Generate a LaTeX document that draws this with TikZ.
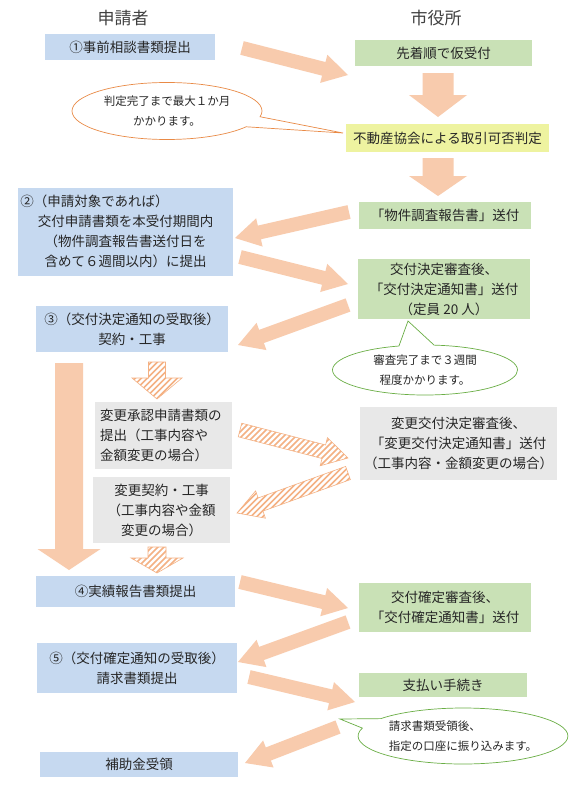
\documentclass[tikz,border=0pt]{standalone}
\usepackage{fontspec}
\setmainfont{Noto Sans CJK JP}
\usetikzlibrary{calc,shapes.callouts}
\definecolor{bluebox}{HTML}{C6D9F0}
\definecolor{greenbox}{HTML}{C9E1B6}
\definecolor{yellowbox}{HTML}{EEF3A0}
\definecolor{graybox}{HTML}{E8E8E8}
\definecolor{peach}{HTML}{F8CBAD}
\definecolor{peachline}{HTML}{F4B183}
\definecolor{callorange}{HTML}{E98A46}
\definecolor{callgreen}{HTML}{6AAE45}
\definecolor{txt}{HTML}{262626}
\definecolor{headtxt}{HTML}{404040}
% solid fat arrow: style, tail, tip, shaft half width, head half width, head length
\newcommand\fatarrow[6]{%
  \coordinate (fa-c) at ($(#3)!#6pt!(#2)$);
  \path[#1] ($(#2)!#4pt!90:(#3)$) -- ($(fa-c)!#4pt!90:(#3)$) -- ($(fa-c)!#5pt!90:(#3)$)
    -- (#3) -- ($(fa-c)!#5pt!-90:(#3)$) -- ($(fa-c)!#4pt!-90:(#3)$) -- ($(#2)!#4pt!-90:(#3)$) -- cycle;}
% hatched fat arrow: tail, tip, shaft half width, head half width, head length
\newcommand\hatcharrow[5]{%
  \coordinate (fa-c) at ($(#2)!#5pt!(#1)$);
  \coordinate (fa-m) at ($(#1)!0.5!(#2)$);
  \begin{scope}
  \clip ($(#1)!#3pt!90:(#2)$) -- ($(fa-c)!#3pt!90:(#2)$) -- ($(fa-c)!#4pt!90:(#2)$)
    -- (#2) -- ($(fa-c)!#4pt!-90:(#2)$) -- ($(fa-c)!#3pt!-90:(#2)$) -- ($(#1)!#3pt!-90:(#2)$) -- cycle;
  \fill[white] ($(fa-m)+(-90,-90)$) rectangle ($(fa-m)+(90,90)$);
  \foreach \k in {-180,-174,...,180}
    \draw[hatchline] ($(fa-m)+(\k-90,90)$) -- ($(fa-m)+(\k+90,-90)$);
  \end{scope}
  \draw[hatchedge] ($(#1)!#3pt!90:(#2)$) -- ($(fa-c)!#3pt!90:(#2)$) -- ($(fa-c)!#4pt!90:(#2)$)
    -- (#2) -- ($(fa-c)!#4pt!-90:(#2)$) -- ($(fa-c)!#3pt!-90:(#2)$) -- ($(#1)!#3pt!-90:(#2)$) -- cycle;}
\begin{document}
\begin{tikzpicture}[x=1pt,y=-1pt,
  every node/.style={text=txt},
  boxbase/.style={rectangle, inner sep=0pt, align=center, font=\fontsize{13.5}{20}\selectfont},
  bluebx/.style={boxbase, fill=bluebox},
  greenbx/.style={boxbase, fill=greenbox},
  yellowbx/.style={boxbase, fill=yellowbox},
  graybx/.style={boxbase, fill=graybox},
  header/.style={font=\fontsize{17}{20}\selectfont, text=headtxt},
  solidarrow/.style={fill=peach},
  hatchline/.style={draw=peachline, line width=1.7pt},
  hatchedge/.style={draw=peachline, line width=0.6pt},
  callbase/.style={ellipse callout, fill=white, line width=0.7pt, inner sep=0pt, callout pointer arc=22, font=\fontsize{11.5}{20}\selectfont}
]
\useasboundingbox (0,0) rectangle (587,800);
\fill[white] (0,0) rectangle (587,800);

% headers
\node[header] (h1) at (123,18) {申請者};
\node[header] (h2) at (436,18) {市役所};

% arrow end coordinates
\coordinate (a1t) at (242,48);  \coordinate (a1h) at (348,75);
\coordinate (d1t) at (438,73);  \coordinate (d1h) at (438,117);
\coordinate (d2t) at (438,158); \coordinate (d2h) at (438,196);
\coordinate (a2t) at (349,212); \coordinate (a2h) at (235,238);
\coordinate (a3t) at (240,257); \coordinate (a3h) at (348,284);
\coordinate (a4t) at (348,305); \coordinate (a4h) at (238,345);
\coordinate (bdt) at (69,363);  \coordinate (bdh) at (69,570);
\coordinate (hd1t) at (157,362); \coordinate (hd1h) at (157,399);
\coordinate (ha1t) at (240,430); \coordinate (ha1h) at (348,458);
\coordinate (ha2t) at (348,473); \coordinate (ha2h) at (237,513);
\coordinate (hd2t) at (157,547); \coordinate (hd2h) at (157,573);
\coordinate (a5t) at (240,582); \coordinate (a5h) at (348,608);
\coordinate (a6t) at (348,622); \coordinate (a6h) at (238,662);
\coordinate (a7t) at (249,677); \coordinate (a7h) at (355,702);
\coordinate (a8t) at (338,727); \coordinate (a8h) at (245,763);

% solid arrows
\fatarrow{solidarrow}{a1t}{a1h}{7}{14.5}{25}
\fatarrow{solidarrow}{d1t}{d1h}{15.5}{29}{22}
\fatarrow{solidarrow}{d2t}{d2h}{15.5}{29}{20}
\fatarrow{solidarrow}{a2t}{a2h}{7}{14.5}{25}
\fatarrow{solidarrow}{a3t}{a3h}{7}{14.5}{25}
\fatarrow{solidarrow}{a4t}{a4h}{7}{14.5}{25}
\fatarrow{solidarrow}{bdt}{bdh}{14}{31.5}{21}
\fatarrow{solidarrow}{a5t}{a5h}{7}{14.5}{25}
\fatarrow{solidarrow}{a6t}{a6h}{7}{14.5}{25}
\fatarrow{solidarrow}{a7t}{a7h}{7}{14.5}{25}
\fatarrow{solidarrow}{a8t}{a8h}{7}{14.5}{25}
% hatched arrows
\hatcharrow{hd1t}{hd1h}{8.5}{25}{21}
\hatcharrow{ha1t}{ha1h}{7}{14.5}{25}
\hatcharrow{ha2t}{ha2h}{7}{14.5}{25}
\hatcharrow{hd2t}{hd2h}{9}{26}{15}

% left column
\node[bluebx, minimum width=170, minimum height=26] (b1) at (130,47) {①事前相談書類提出};
\node[bluebx, minimum width=215, minimum height=88] (b2) at (125.5,231.5) {②（申請対象であれば）\hspace*{62pt}\\交付申請書類を本受付期間内\\（物件調査報告書送付日を\\含めて６週間以内）に提出};
\node[bluebx, minimum width=192, minimum height=46] (b3) at (132,329) {③（交付決定通知の受取後）\\契約・工事};
\node[graybx, minimum width=137, minimum height=67, text width=126, align=left] (gl1) at (163,435.5) {変更承認申請書類の\\提出（工事内容や\\金額変更の場合）};
\node[graybx, minimum width=137, minimum height=66] (gl2) at (161.5,510) {変更契約・工事\\（工事内容や金額\\変更の場合）};
\node[bluebx, minimum width=199, minimum height=31] (b4) at (135.5,591.5) {④実績報告書類提出};
\node[bluebx, minimum width=200, minimum height=50] (b5) at (137,668) {⑤（交付確定通知の受取後）\\請求書類提出};
\node[bluebx, minimum width=198, minimum height=25] (b6) at (139,764.5) {補助金受領};

% right column
\node[greenbx, minimum width=177, minimum height=26] (g1) at (443.5,53) {先着順で仮受付};
\node[yellowbx, minimum width=203, minimum height=28] (y1) at (447.5,138) {不動産協会による取引可否判定};
\node[greenbx, minimum width=172, minimum height=27] (g2) at (445,215.5) {「物件調査報告書」送付};
\node[greenbx, minimum width=172, minimum height=60] (g3) at (444,289) {交付決定審査後、\\「交付決定通知書」送付\\（定員 20 人）};
\node[graybx, minimum width=197, minimum height=73] (g4) at (458.5,443.5) {変更交付決定審査後、\\「変更交付決定通知書」送付\\（工事内容・金額変更の場合）};
\node[greenbx, minimum width=172, minimum height=49] (g5) at (445,607.5) {交付確定審査後、\\「交付確定通知書」送付};
\node[greenbx, minimum width=168, minimum height=24] (g6) at (443,685) {支払い手続き};

% callouts
\coordinate (c1tip) at (343,133);
\coordinate (c2tip) at (408,321);
\coordinate (c3tip) at (340,719);
\node[callbase, draw=callorange, minimum width=190, minimum height=57, align=center, callout absolute pointer={(c1tip)}] (c1) at (167,111) {判定完了まで最大１か月\\かかります。};
\node[callbase, draw=callgreen, minimum width=185, minimum height=50, align=center, callout absolute pointer={(c2tip)}] (c2) at (425,370) {審査完了まで３週間\\程度かかります。};
\node[callbase, draw=callgreen, minimum width=207, minimum height=56, align=left, callout absolute pointer={(c3tip)}] (c3) at (463,736) {請求書類受領後、\\指定の口座に振り込みます。};
\end{tikzpicture}
\end{document}
